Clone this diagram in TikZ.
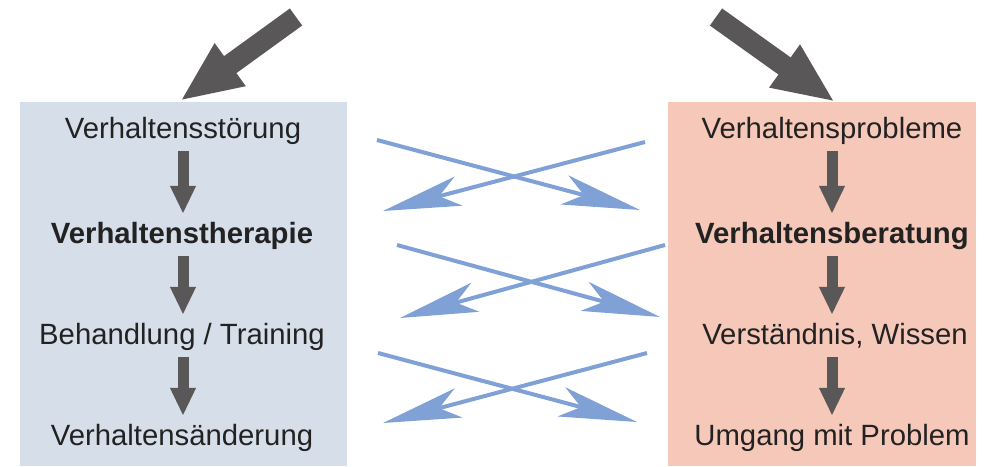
\documentclass[tikz,border=0pt]{standalone}
\usepackage{fontspec}
\setmainfont{Liberation Sans}
\usetikzlibrary{arrows.meta}
\definecolor{boxblue}{RGB}{214,222,234}
\definecolor{boxrose}{RGB}{245,200,185}
\definecolor{crossblue}{RGB}{127,161,214}
\definecolor{darkarrow}{RGB}{90,87,88}
\definecolor{txt}{RGB}{34,34,34}
\tikzset{
    boxtext/.style={text=txt,font=\fontsize{29.3}{34}\selectfont,inner sep=0pt,
        text height=22pt,text depth=7pt,anchor=base},
    downarrow/.style={darkarrow,line width=11pt,-{Triangle[length=28pt,width=24pt]},
        shorten <=6pt,shorten >=7pt},
    bigarrow/.style={darkarrow,line width=21pt,-{Triangle[length=62pt,width=48pt]}},
    crossarrow/.style={crossblue,line width=4pt,-{Stealth[length=78pt,width=30pt,inset=20pt]}}
}

\begin{document}
\begin{tikzpicture}[x=1pt,y=-1pt]
    \useasboundingbox (0,0) rectangle (995,466);
    % the two boxes
    \fill[boxblue] (20,102) rectangle (347,466);
    \fill[boxrose] (668,102) rectangle (976,466);
    % left column
    \node[boxtext] (l1) at (183,138) {Verhaltensstörung};
    \node[boxtext,font=\fontsize{29.3}{34}\selectfont\bfseries] (l2) at (182,243) {Verhaltenstherapie};
    \node[boxtext] (l3) at (182,344) {Behandlung / Training};
    \node[boxtext] (l4) at (182,445) {Verhaltensänderung};
    % right column
    \node[boxtext] (r1) at (832,138) {Verhaltensprobleme};
    \node[boxtext,font=\fontsize{29.3}{34}\selectfont\bfseries] (r2) at (832,243) {Verhaltensberatung};
    \node[boxtext] (r3) at (835,344) {Verständnis, Wissen};
    \node[boxtext] (r4) at (832,445) {Umgang mit Problem};
    \draw[downarrow] (l1.south) -- (l1.south |- l2.north);
    \draw[downarrow] (l1.south |- l2.south) -- (l1.south |- l3.north);
    \draw[downarrow] (l1.south |- l3.south) -- (l1.south |- l4.north);
    \draw[downarrow] (r1.south) -- (r1.south |- r2.north);
    \draw[downarrow] (r1.south |- r2.south) -- (r1.south |- r3.north);
    \draw[downarrow] (r1.south |- r3.south) -- (r1.south |- r4.north);
    % big arrows from above
    \coordinate (ltail) at (296,17);
    \coordinate (ltip) at (180,101);
    \coordinate (rtail) at (716,17);
    \coordinate (rtip) at (835,102);
    \draw[bigarrow] (ltail) -- (ltip);
    \draw[bigarrow] (rtail) -- (rtip);
    % crossing arrows between the boxes
    \foreach \i/\xa/\ya/\xb/\yb in {1/377/140/640/210, 2/645/142/383/211,
        3/397/245/660/317, 4/665/245/400/318, 5/378/353/637/422, 6/647/353/383/423}{
        \coordinate (s\i) at (\xa,\ya);
        \coordinate (e\i) at (\xb,\yb);
        \draw[crossarrow] (s\i) -- (e\i);
    }
\end{tikzpicture}
\end{document}
